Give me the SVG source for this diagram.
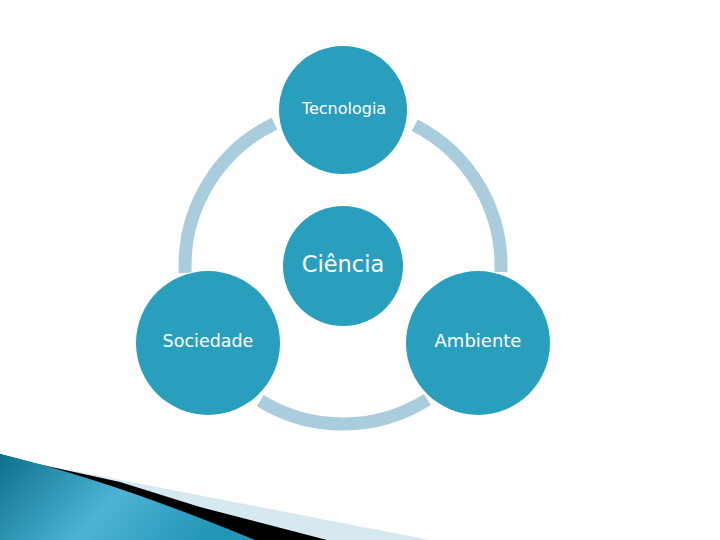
<svg xmlns="http://www.w3.org/2000/svg" width="720" height="540" viewBox="0 0 720 540">
  <defs>
    <style>
      .node { fill: #2a9fbd; }
      .ring { fill: none; stroke: #a9cddd; stroke-width: 13; stroke-linecap: butt; }
      .label { fill: #ffffff; font-family: "DejaVu Sans", "Liberation Sans", sans-serif; text-anchor: middle; }
    </style>
    <linearGradient id="swoosh" x1="0" y1="0" x2="1" y2="0.3">
      <stop offset="0" stop-color="#0d6f8c"/>
      <stop offset="0.55" stop-color="#4db4d4"/>
      <stop offset="1" stop-color="#2396b6"/>
    </linearGradient>
  </defs>
  <rect x="0" y="0" width="720" height="540" fill="#ffffff"/>

  <g id="decoration">
    <path d="M0,454 L33,463 L430,540 L0,540 Z" fill="#d6e9f0"/>
    <path d="M0,454 L33,463 L120,482 L200,507 L327,540 L0,540 Z" fill="#000000"/>
    <path d="M0,454 Q110,480 255,540 L0,540 Z" fill="url(#swoosh)"/>
  </g>

  <g id="connectors">
    <path class="ring" d="M185.2,272.9 A158,158 0 0 1 274.5,123.6"/>
    <path class="ring" d="M414.7,125.2 A158,158 0 0 1 500.9,272.1"/>
    <path class="ring" d="M427.4,399.5 A158,158 0 0 1 260.2,400.6"/>
  </g>

  <g id="tecnologia">
    <circle class="node" cx="343" cy="110" r="64"/>
    <text class="label" x="344" y="114" font-size="16">Tecnologia</text>
  </g>
  <g id="ciencia">
    <circle class="node" cx="343" cy="266" r="60"/>
    <text class="label" x="343" y="272" font-size="22.5">Ciência</text>
  </g>
  <g id="sociedade">
    <circle class="node" cx="208" cy="343" r="72"/>
    <text class="label" x="208" y="347" font-size="17.5">Sociedade</text>
  </g>
  <g id="ambiente">
    <circle class="node" cx="478" cy="343" r="72"/>
    <text class="label" x="478" y="347" font-size="18">Ambiente</text>
  </g>
</svg>
